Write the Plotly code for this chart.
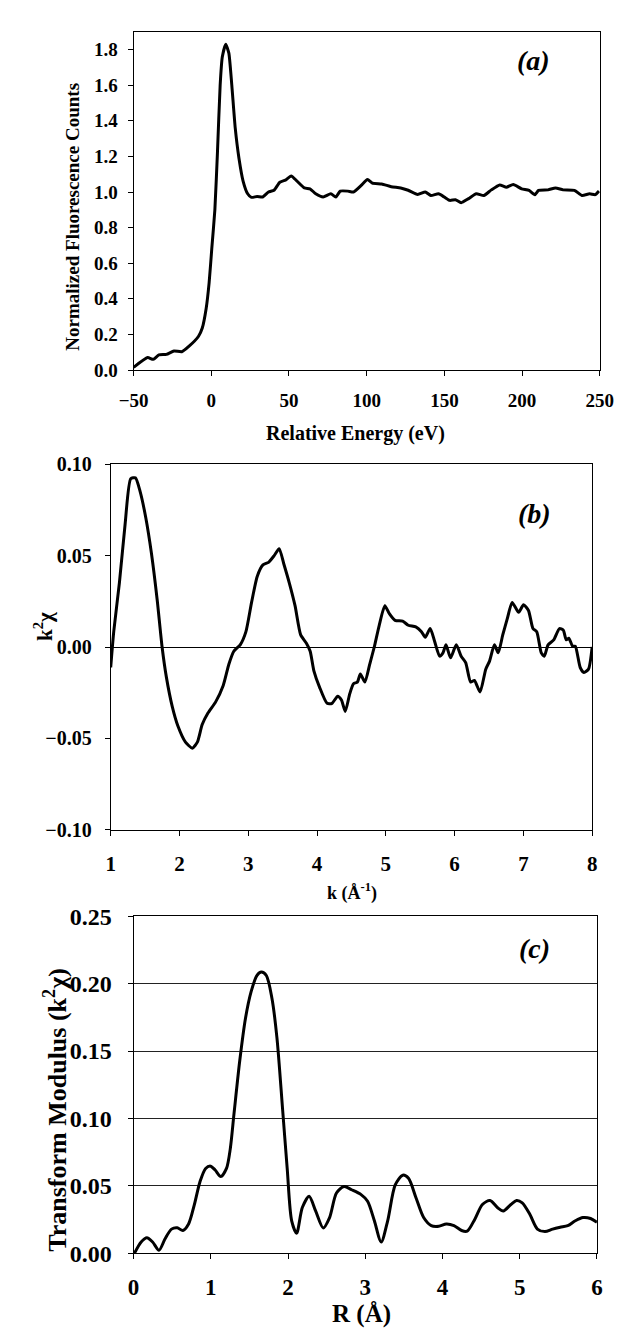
import plotly.graph_objects as go

# Panel (a): XANES
energy = [-50, -41, -37.4, -33.7, -28.9, -24, -19, -14.3, -8.2, -5.8, -3.3, -1.4, 0.3, 2.3, 4.0, 5.7, 7.1, 9.3,
          11.3, 13.2, 15.4, 17.8, 20.5, 23.4, 25.8, 29.5, 33.1, 36.8, 40.4, 44.1, 47.7, 51.4, 55.0, 59.9, 63.5,
          67.2, 72.0, 76.9, 80.1, 83.0, 87.8, 91.5, 96.3, 100.5, 103.6, 109.7, 115.8, 121.9, 126.7, 132.8, 137.7,
          141.3, 146.2, 149.9, 153.5, 157.1, 160.8, 165.6, 170.5, 175.4, 180.2, 185.6, 189.9, 194.3, 199.7, 204.5,
          208.2, 210.6, 216.7, 221.5, 226.4, 233.7, 238.6, 243.4, 247.1, 249.5]
fluor = [0.015, 0.07, 0.06, 0.085, 0.088, 0.107, 0.103, 0.134, 0.19, 0.236, 0.346, 0.49, 0.68, 0.90, 1.23, 1.60,
         1.76, 1.83, 1.78, 1.60, 1.36, 1.19, 1.06, 0.99, 0.97, 0.975, 0.972, 1.0, 1.01, 1.055, 1.067, 1.09, 1.063,
         1.023, 1.018, 0.99, 0.972, 0.99, 0.972, 1.005, 1.005, 1.0, 1.036, 1.07, 1.05, 1.045, 1.03, 1.023, 1.01,
         0.986, 1.0, 0.98, 0.99, 0.972, 0.953, 0.957, 0.94, 0.963, 0.99, 0.98, 1.012, 1.04, 1.027, 1.042, 1.018,
         1.009, 0.985, 1.009, 1.012, 1.023, 1.012, 1.009, 0.98, 0.99, 0.985, 1.005]

# Panel (b): EXAFS k^2 chi
k_vals = [1.0, 1.044, 1.126, 1.209, 1.291, 1.36, 1.428, 1.51, 1.593, 1.675, 1.747, 1.81, 1.895, 1.977, 2.087,
          2.186, 2.26, 2.33, 2.416, 2.526, 2.636, 2.718, 2.79, 2.883, 2.966, 3.048, 3.13, 3.213, 3.295, 3.377,
          3.449, 3.515, 3.597, 3.68, 3.762, 3.845, 3.9, 3.954, 4.036, 4.146, 4.218, 4.3, 4.355, 4.41, 4.476, 4.53,
          4.586, 4.63, 4.695, 4.766, 4.832, 4.904, 4.986, 5.051, 5.134, 5.244, 5.326, 5.436, 5.518, 5.573, 5.645,
          5.71, 5.782, 5.831, 5.875, 5.941, 6.024, 6.095, 6.161, 6.233, 6.288, 6.37, 6.453, 6.508, 6.579, 6.634,
          6.7, 6.766, 6.837, 6.931, 7.002, 7.074, 7.139, 7.194, 7.26, 7.304, 7.359, 7.441, 7.524, 7.579, 7.623,
          7.661, 7.716, 7.755, 7.826, 7.881, 7.947, 8.0]
k2chi = [-0.0112, 0.0084, 0.035, 0.067, 0.092, 0.0925, 0.085, 0.0707, 0.051, 0.026, 0.0, -0.0166, -0.0326,
         -0.0432, -0.052, -0.0553, -0.052, -0.0424, -0.036, -0.030, -0.021, -0.0094, -0.0023, 0.0012, 0.0084,
         0.0244, 0.0386, 0.0449, 0.0463, 0.050, 0.0538, 0.0457, 0.035, 0.0226, 0.0066, 0.0021, -0.0023, -0.013,
         -0.0219, -0.0308, -0.0308, -0.0269, -0.029, -0.0352, -0.0255, -0.0201, -0.0192, -0.0148, -0.0192,
         -0.0094, 0.0, 0.0119, 0.0226, 0.0182, 0.0146, 0.0142, 0.0119, 0.011, 0.0084, 0.0053, 0.0101, 0.003,
         -0.005, -0.0032, 0.0012, -0.0059, 0.0012, -0.005, -0.0085, -0.0192, -0.0183, -0.0246, -0.0121, -0.0077,
         0.0012, -0.0032, 0.0066, 0.0155, 0.0244, 0.019, 0.0231, 0.02, 0.0101, 0.0084, -0.0032, -0.005, 0.0012,
         0.0039, 0.0101, 0.0093, 0.0039, 0.0048, 0.0004, 0.0004, -0.0112, -0.0139, -0.0121, 0.0]

# Panel (c): Fourier transform modulus
r_vals = [0.01, 0.098, 0.172, 0.246, 0.329, 0.408, 0.491, 0.565, 0.638, 0.712, 0.786, 0.859, 0.933, 0.997,
          1.056, 1.129, 1.203, 1.252, 1.301, 1.375, 1.448, 1.522, 1.596, 1.655, 1.719, 1.792, 1.856, 1.93, 1.989,
          2.047, 2.111, 2.185, 2.273, 2.357, 2.455, 2.538, 2.627, 2.725, 2.823, 2.946, 3.03, 3.118, 3.206, 3.29,
          3.388, 3.486, 3.56, 3.658, 3.756, 3.854, 3.952, 4.05, 4.149, 4.247, 4.32, 4.419, 4.517, 4.616, 4.714,
          4.787, 4.886, 4.959, 5.033, 5.131, 5.229, 5.327, 5.426, 5.524, 5.622, 5.72, 5.819, 5.917, 6.0]
ft_mod = [0.0, 0.0085, 0.0116, 0.0085, 0.0024, 0.0109, 0.018, 0.019, 0.017, 0.0218, 0.036, 0.053, 0.063, 0.0647,
          0.0618, 0.057, 0.063, 0.0775, 0.104, 0.143, 0.174, 0.194, 0.206, 0.2086, 0.206, 0.189, 0.160, 0.1065,
          0.063, 0.0242, 0.015, 0.034, 0.0424, 0.0315, 0.0189, 0.0266, 0.0448, 0.0496, 0.0472, 0.0436, 0.0387,
          0.0242, 0.0085, 0.0242, 0.0508, 0.058, 0.0557, 0.0411, 0.0266, 0.0206, 0.0201, 0.0218, 0.0206, 0.017,
          0.0165, 0.0254, 0.0363, 0.0392, 0.0339, 0.0315, 0.0363, 0.0392, 0.0375, 0.029, 0.0181, 0.0162, 0.018,
          0.0194, 0.0206, 0.0242, 0.0266, 0.0259, 0.023]

FONT = "Liberation Serif"
W, H = 622, 1330

fig = go.Figure()
line = dict(color="black", width=3)
fig.add_trace(go.Scatter(x=energy, y=fluor, mode="lines", line=dict(line, shape="spline", smoothing=0.5),
                         xaxis="x", yaxis="y", showlegend=False))
fig.add_trace(go.Scatter(x=k_vals, y=k2chi, mode="lines", line=dict(line, shape="spline", smoothing=0.6),
                         xaxis="x2", yaxis="y2", showlegend=False))
fig.add_trace(go.Scatter(x=r_vals, y=ft_mod, mode="lines", line=dict(line, shape="spline", smoothing=0.8),
                         xaxis="x3", yaxis="y3", showlegend=False))

def px_x(a, b):
    return [a / W, b / W]

def px_y(top, bottom):
    return [1 - bottom / H, 1 - top / H]

common = dict(showline=True, linecolor="black", linewidth=1, mirror=True, ticks="outside",
              ticklen=5, tickcolor="black", tickwidth=1, showgrid=False, zeroline=False)

def tf(size):
    return dict(family=FONT, size=size, color="black", weight="bold")

fig.update_layout(
    width=W, height=H, margin=dict(l=0, r=0, t=0, b=0),
    paper_bgcolor="white", plot_bgcolor="white",
    xaxis=dict(common, domain=px_x(116, 605), range=[-50, 250], dtick=50, anchor="y",
               tickfont=tf(19), ticklabelstandoff=8),
    yaxis=dict(common, domain=px_y(11, 356), range=[0, 1.9], dtick=0.2, tickformat=".1f", anchor="x",
               tickfont=tf(19), ticklabelstandoff=6),
    xaxis2=dict(common, domain=px_x(92, 597), range=[1, 8], dtick=1, anchor="y2",
                tickfont=tf(21), ticklabelstandoff=10),
    yaxis2=dict(common, domain=px_y(452, 825), range=[-0.1, 0.1], dtick=0.05, tickformat=".2f", anchor="x2",
                zeroline=True, zerolinecolor="black", zerolinewidth=1,
                tickfont=tf(20), ticklabelstandoff=9),
    xaxis3=dict(common, domain=px_x(116, 602), range=[0, 6], dtick=1, anchor="y3",
                tickfont=tf(23), ticklabelstandoff=8),
    yaxis3=dict(common, domain=px_y(913, 1257), range=[0, 0.25], dtick=0.05, tickformat=".2f", anchor="x3",
                showgrid=True, gridcolor="#222222", gridwidth=1,
                tickfont=tf(24), ticklabelstandoff=11),
)

def ann(text, x, y, size, angle=0, italic=False):
    fig.add_annotation(text=text, x=x / W, y=1 - y / H, xref="paper", yref="paper", showarrow=False,
                       textangle=angle, xanchor="center", yanchor="middle",
                       font=dict(family=FONT, size=size, color="black", weight="bold",
                                 style="italic" if italic else "normal"))

ann("Normalized Fluorescence Counts", 52, 200, 19, angle=-90)
ann("Relative Energy (eV)", 349, 421, 20)
ann("(a)", 535, 40, 28, italic=True)

ann("k<sup>2</sup>χ", 22, 617, 21, angle=-90)
ann("k (Å<sup>-1</sup>)", 345, 888, 18)
ann("(b)", 537, 502, 28, italic=True)

ann("Transform Modulus (k<sup>2</sup>χ)", 34, 1110, 26, angle=-90)
ann("R (Å)", 355, 1319, 25)
ann("(c)", 537, 946, 28, italic=True)

fig.write_html("out.html")
